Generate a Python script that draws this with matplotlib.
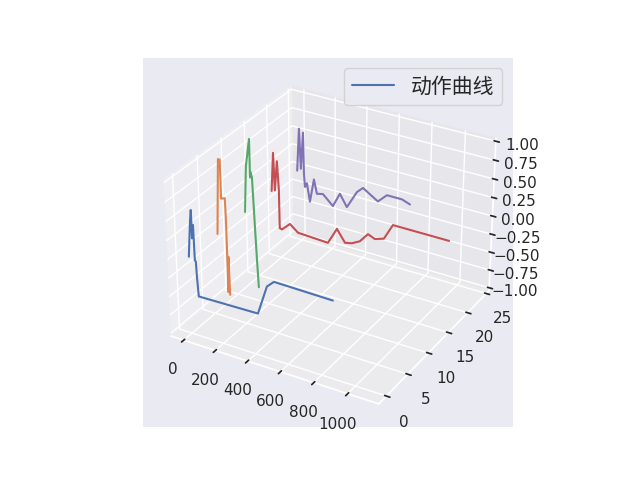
import numpy as np
import matplotlib
matplotlib.use("Agg")
import matplotlib.pyplot as plt
import seaborn as sns

sns.set_theme()
plt.rcParams['font.family'] = ['DejaVu Sans', 'Noto Sans CJK SC']

# 每条曲线所在的 y 位置
curve_y = [0, 6, 12, 18, 24]

# 各条曲线的时间 (x) 与动作值 (z)
x0 = [0, 16, 24, 25, 34, 37, 43, 46, 53, 419, 477, 520, 867]
z0 = [0, 0.47, 0.63, 0.26, 0.44, -0.02, -0.04, -0.24, -0.50, -0.48, -0.08, 0.01, 0]

x1 = [0, 18, 29, 30, 53, 56, 59, 65, 69]
z1 = [0, 1.0, 1.0, 0.49, 0.51, 0.26, -0.76, -0.27, -0.79]

x2 = [0, 12, 36, 37, 39, 49, 69, 78]
z2 = [0, 0.62, 1.0, 0.49, 0.57, 0.50, -0.59, -1.0]

x3 = [0, 13, 21, 37, 47, 49, 63, 116, 167, 359, 416, 467, 510, 560, 610, 653, 708, 762, 1100]
z3 = [0, 0.53, 0.02, 0.43, 0.04, -0.49, -0.50, -0.39, -0.48, -0.50, -0.27, -0.43, -0.41,
      -0.35, -0.22, -0.26, -0.22, 0.0, 0.0]

x4 = [0, 14, 24, 40, 44, 50, 63, 82, 109, 128, 167, 232, 277, 322, 386, 424, 519, 575, 669, 719]
z4 = [0, 0.59, 0.04, 0.55, -0.01, -0.20, -0.14, -0.39, -0.06, -0.25, -0.23, -0.36, -0.16,
      -0.32, -0.07, 0.01, -0.12, 0.0, 0.0, -0.04]

xs = [x0, x1, x2, x3, x4]
zs = [z0, z1, z2, z3, z4]

fig = plt.figure(figsize=(6.4, 4.8), dpi=100)
ax = fig.add_subplot(projection='3d')

for i in range(len(xs)):
    y = np.full(len(xs[i]), curve_y[i])
    if i == 0:
        ax.plot(xs[i], y, zs[i], label='动作曲线')
    else:
        ax.plot(xs[i], y, zs[i])

ax.legend(loc='upper right', fontsize=15)
fig.savefig('out.png')
